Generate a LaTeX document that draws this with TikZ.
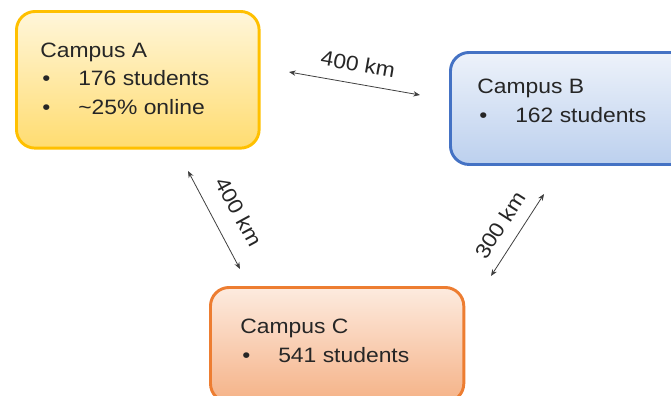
\documentclass[tikz,border=0pt]{standalone}
\usepackage{fontspec}
\setmainfont[FakeStretch=1.1]{Liberation Sans}
\usetikzlibrary{arrows.meta}
\definecolor{aborder}{HTML}{FFC000}
\definecolor{atop}{HTML}{FFF6DA}
\definecolor{abot}{HTML}{FFDC70}
\definecolor{bborder}{HTML}{4472C4}
\definecolor{btop}{HTML}{EDF2FA}
\definecolor{bbot}{HTML}{BCD0EE}
\definecolor{cborder}{HTML}{ED7D31}
\definecolor{ctop}{HTML}{FDEBDF}
\definecolor{cbot}{HTML}{F5B287}
\definecolor{linegray}{HTML}{404040}
\tikzset{
  campus/.style={draw, line width=2.2pt, rounded corners=14pt, anchor=north west, inner sep=0pt},
  campusA/.style={campus, draw=aborder, top color=atop, bottom color=abot},
  campusB/.style={campus, draw=bborder, top color=btop, bottom color=bbot},
  campusC/.style={campus, draw=cborder, top color=ctop, bottom color=cbot},
  label/.style={font=\fontsize{15.6}{21.4}\selectfont, text=black!85, inner sep=0pt, align=left, anchor=west},
  dist/.style={font=\fontsize{15.6}{17}\selectfont, text=black!85, inner sep=0pt},
  distarrow/.style={{Stealth[length=5pt,width=4pt]}-{Stealth[length=5pt,width=4pt]}, line width=0.6pt, draw=linegray}
}
\newcommand{\bul}[1]{\makebox[28.5pt][l]{\hspace{1.5pt}\textbullet}#1}
\begin{document}
\begin{tikzpicture}[x=0.75pt,y=0.75pt]
\useasboundingbox (0,0) rectangle (671,-396);
\clip (0,0) rectangle (671,-396);
% boxes
\node[campusA, minimum width=182pt, minimum height=102.5pt] (A) at (15,-10) {};
\node[campusB, minimum width=180pt, minimum height=84pt] (B) at (449,-51) {};
\node[campusC, minimum width=190pt, minimum height=86pt] (C) at (209,-286) {};
% texts
\node[label] (Atext) at (40,-78.5) {Campus A\\\bul{176 students}\\\bul{\textasciitilde25\% online}};
\node[label] (Btext) at (477,-101) {Campus B\\\bul{162 students}};
\node[label] (Ctext) at (240,-341) {Campus C\\\bul{541 students}};
% connector ends
\coordinate (ab1) at (289,-72);
\coordinate (ab2) at (420,-95);
\coordinate (ac1) at (188,-171);
\coordinate (ac2) at (240,-269);
\coordinate (bc1) at (491,-276);
\coordinate (bc2) at (544,-194);
\draw[distarrow] (ab1) -- (ab2);
\draw[distarrow] (ac1) -- (ac2);
\draw[distarrow] (bc1) -- (bc2);
% distance labels
\node[dist, rotate=-10] (dab) at (358,-64) {400 km};
\node[dist, rotate=-61.5] (dac) at (239,-212) {400 km};
\node[dist, rotate=57.5] (dbc) at (500,-225) {300 km};
\end{tikzpicture}
\end{document}
